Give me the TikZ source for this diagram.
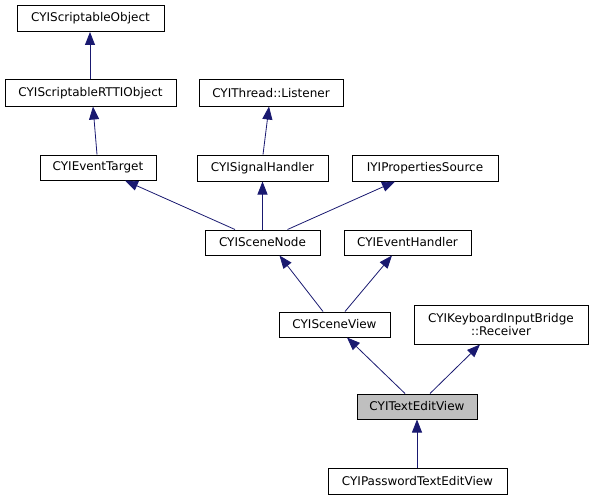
\documentclass[tikz,border=0pt]{standalone}
\usepackage{fontspec}
\setmainfont{DejaVu Sans}
\usetikzlibrary{arrows.meta}
\definecolor{edgeblue}{HTML}{191970}
\definecolor{hl}{HTML}{BFBFBF}
\begin{document}
\begin{tikzpicture}[x=1pt,y=-1pt,
 box/.style={draw=black,line width=1pt,fill=white,inner sep=0pt,font=\fontsize{12}{13}\selectfont,align=center},
 arr/.style={draw=edgeblue,line width=0.8pt,-{Triangle[length=13pt,width=10pt,fill=edgeblue]}}]
\useasboundingbox (0,0) rectangle (593,500);
\node[box,minimum width=147pt,minimum height=26pt] (so) at (90.5,18.5) {CYIScriptableObject};
\node[box,minimum width=171pt,minimum height=26pt] (rtti) at (90.5,93) {CYIScriptableRTTIObject};
\node[box,minimum width=144pt,minimum height=26pt] (tl) at (271,93) {CYIThread::Listener};
\node[box,minimum width=116pt,minimum height=25pt] (et) at (98,167.5) {CYIEventTarget};
\node[box,minimum width=131pt,minimum height=26pt] (sh) at (262.5,168) {CYISignalHandler};
\node[box,minimum width=146pt,minimum height=26pt] (ps) at (425,168) {IYIPropertiesSource};
\node[box,minimum width=115pt,minimum height=25pt] (sn) at (262.5,242.5) {CYISceneNode};
\node[box,minimum width=127pt,minimum height=25pt] (eh) at (407.5,242.5) {CYIEventHandler};
\node[box,minimum width=111pt,minimum height=25pt] (sv) at (334.5,324.5) {CYISceneView};
\node[box,minimum width=174pt,minimum height=39pt] (kr) at (501,324.5) {CYIKeyboardInputBridge\\::Receiver};
\node[box,fill=hl,minimum width=120pt,minimum height=25pt] (tev) at (417,406.5) {CYITextEditView};
\node[box,minimum width=179pt,minimum height=26pt] (pw) at (417.5,481) {CYIPasswordTextEditView};
\draw[arr] ([xshift=-0.5pt]rtti.north) -- ([xshift=-0.5pt]so.south);
\draw[arr] ([xshift=-1pt]et.north) -- ([xshift=2.5pt]rtti.south);
\draw[arr] ([xshift=0.5pt]sh.north) -- ([xshift=-2pt]tl.south);
\draw[arr] ([xshift=-27.5pt]sn.north) -- ([xshift=27pt]et.south);
\draw[arr] (sn.north) -- (sh.south);
\draw[arr] ([xshift=25pt]sn.north) -- ([xshift=-30pt]ps.south);
\draw[arr] ([xshift=-11.5pt]sv.north) -- ([xshift=17pt]sn.south);
\draw[arr] ([xshift=10.5pt]sv.north) -- ([xshift=-15.5pt]eh.south);
\draw[arr] ([xshift=-12pt]tev.north) -- ([xshift=12.5pt]sv.south);
\draw[arr] ([xshift=13pt]tev.north) -- ([xshift=-21pt]kr.south);
\draw[arr] ([xshift=-0.5pt]pw.north) -- (tev.south);
\end{tikzpicture}
\end{document}
